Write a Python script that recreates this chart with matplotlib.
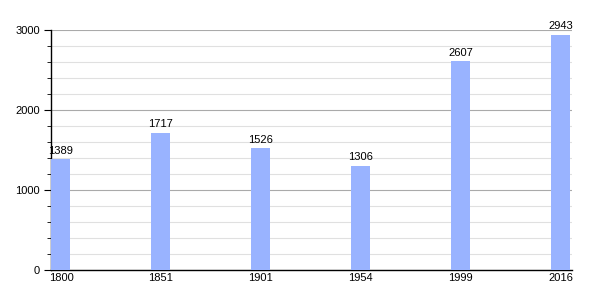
import matplotlib
matplotlib.use("Agg")
import matplotlib.pyplot as plt
from matplotlib.ticker import MultipleLocator

years = ["1800", "1851", "1901", "1954", "1999", "2016"]
population = [1389, 1717, 1526, 1306, 2607, 2943]

plt.rcParams['font.family'] = ['Liberation Sans', 'DejaVu Sans']

fig = plt.figure(figsize=(6, 3), dpi=100)
ax = fig.add_axes([0.085, 0.1, 0.868, 0.8])

x = list(range(len(years)))
bars = ax.bar(x, population, width=0.19, color="#99b3ff", zorder=3)
for xi, v in zip(x, population):
    ax.text(xi, v + 40, str(v), ha="center", va="bottom", fontsize=8, color="black", zorder=4)

ax.set_xlim(-0.1, 5.11)
ax.set_ylim(0, 3000)
ax.set_xticks(x)
ax.set_xticklabels(years, fontsize=8)
ax.tick_params(axis="x", length=0, pad=2)
ax.yaxis.set_major_locator(MultipleLocator(1000))
ax.yaxis.set_minor_locator(MultipleLocator(200))
ax.tick_params(axis="y", which="major", length=5, labelsize=8, pad=3)
ax.tick_params(axis="y", which="minor", length=3)
ax.grid(axis="y", which="major", color="#aaaaaa", linewidth=0.8, zorder=1)
ax.grid(axis="y", which="minor", color="#e0e0e0", linewidth=0.8, zorder=1)
for s in ["top", "right"]:
    ax.spines[s].set_visible(False)
ax.spines["left"].set_linewidth(1)
ax.spines["bottom"].set_linewidth(1)

fig.savefig("out.png", dpi=100)
